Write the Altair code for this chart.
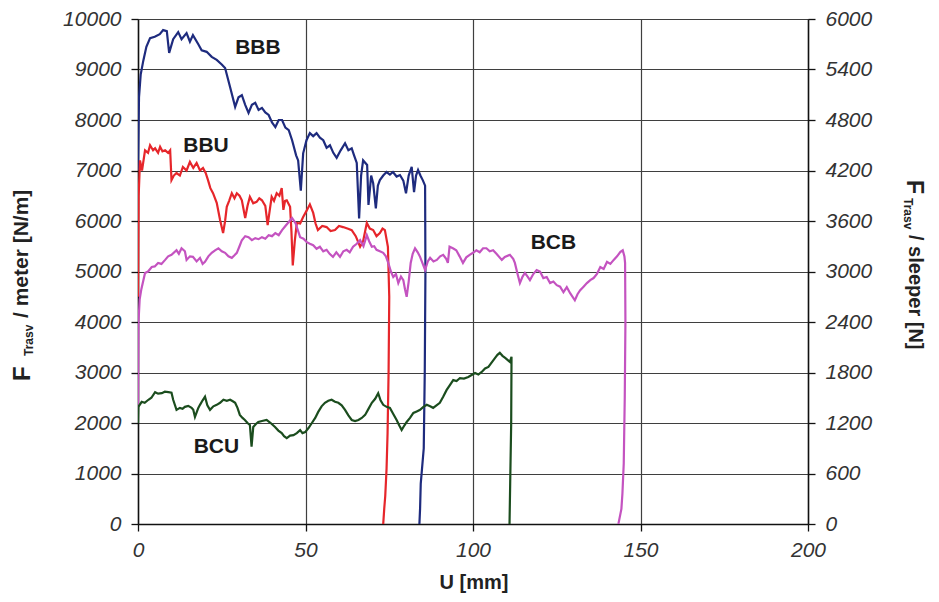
import altair as alt
import pandas as pd

# ---------------- data ----------------
series_names = ["BBB", "BBU", "BCB", "BCU"]
series_colors = ["#1e2b7e", "#e6262b", "#c453c0", "#1b4d1e"]

bbb_u = [0, 0.3, 0.8, 1.6, 2.5, 3.6, 5, 6.5, 7.5, 8.6, 9.3, 10.5, 12, 13, 14.5, 15.5, 16.4, 18, 19, 20.5,
         22, 23.5, 25, 26, 27.5, 29, 30, 31, 32, 33, 34, 35, 36, 37, 38, 39, 40, 41, 42, 43,
         44, 45, 46, 47.2, 47.8, 48.6, 49.3, 50.3, 51.3, 52.3, 53.3, 54.3, 55.3, 56.3, 57.3, 58.3, 59.3, 60.5, 61.8, 62.8,
         63.8, 64.5, 65.3, 66, 66.6, 67.2, 68.4, 68.8, 69.6, 70.2, 71, 71.6, 72.2, 73.2, 74.2, 75.2, 76.1, 77.2, 78.2, 79.2,
         80, 80.8, 81.7, 82.4, 83, 83.6, 84.3, 85, 85.7, 85.8, 85.6, 85.3, 84.4, 84.2, 84.0]
bbb_f = [7000, 8450, 8900, 9180, 9450, 9620, 9650, 9700, 9780, 9760, 9330, 9600, 9740, 9600, 9720, 9550, 9680, 9500, 9380, 9350,
         9250, 9190, 9100, 9030, 8650, 8260, 8450, 8490, 8300, 8140, 8300, 8340, 8200, 8240, 8150, 8100, 7950, 7860, 8000, 8000,
         7850, 7800, 7600, 7300, 7200, 6600, 7340, 7600, 7740, 7680, 7740, 7650, 7600, 7450, 7500, 7350, 7250, 7400, 7540, 7400,
         7440, 7300, 7150, 6050, 6900, 7200, 7110, 6320, 6900, 6750, 6250, 6700, 6810, 6900, 6970, 6920, 6970, 6880, 6910, 6800,
         6550, 6900, 7070, 6570, 6900, 7010, 6900, 6810, 6700, 5000, 3000, 1500, 800, 300, 0]

bbu_u = [0, 0.2, 0.6, 1.2, 2.1, 3, 3.6, 4.5, 5.1, 6, 6.6, 7.3, 8.1, 9, 9.6, 10, 10.7, 11.5, 12.5, 13.4,
         14.5, 15.5, 16.5, 17.5, 18.5, 19.4, 20.2, 20.9, 21.6, 22.4, 23.5, 24.5, 25.4, 26, 26.5, 27.2, 28, 28.8, 29.5, 30.3,
         31, 32, 32.7, 33.4, 34.4, 35.4, 36.2, 37, 38, 38.7, 39.3, 39.9, 40.6, 41.4, 42.2, 42.9, 43.4, 43.9, 44.4, 45.4,
         45.8, 46.2, 46.8, 47.4, 48.4, 49.3, 50.3, 51.3, 52.3, 53, 53.7, 55, 56.3, 57.5, 58.8, 60, 61.2, 62.5, 63.8, 65,
         66.3, 67.2, 68.3, 69.2, 70.2, 71.2, 72.2, 73, 73.7, 74.6, 75, 74.8, 74.5, 74.2, 73.8, 73.5, 73.2]
bbu_f = [4500, 6500, 7200, 7000, 7400, 7350, 7500, 7400, 7440, 7350, 7470, 7380, 7400, 7350, 7400, 6810, 6900, 6950, 6900, 7070,
         7000, 7170, 7050, 7150, 7000, 7050, 6950, 6810, 6650, 6550, 6360, 6020, 5760, 6000, 6280, 6400, 6550, 6450, 6550, 6500,
         6410, 6060, 6300, 6480, 6350, 6380, 6450, 6410, 6300, 5920, 6200, 6480, 6400, 6550, 6500, 6650, 6220, 6400, 6410, 6280,
         5800, 5120, 5600, 5960, 5950, 6080, 6200, 6330, 6160, 5950, 5820, 5900, 5880, 5800, 5820, 5900, 5880, 5850, 5820, 5700,
         5490, 5600, 5960, 5850, 5820, 5700, 5760, 5850, 5820, 5490, 4500, 3000, 1800, 1100, 550, 300, 0]

bcb_u = [0, 0.05, 0.15, 0.5, 1, 2.1, 3, 4.1, 5, 6, 7, 8.1, 9, 10, 11.5, 12.2, 13, 14, 14.5, 15.5,
         16.4, 17.5, 18.5, 19.3, 20, 21, 22, 23, 24, 25, 26, 27, 28, 28.8, 29.5, 30.3, 31, 32, 33, 34,
         35, 36, 37, 38, 39, 40, 41, 42, 43, 44, 45, 46, 47, 48.4, 49.4, 50.4, 51.3, 52.3, 53.3, 54.3,
         55.3, 56.3, 57.2, 58.2, 59.2, 60.3, 61.3, 62.3, 63.2, 64.2, 65.3, 66.3, 67.3, 68.3, 69, 69.8, 70.5, 71.2, 72.2, 73.2,
         74, 74.7, 75.5, 76.2, 77, 77.7, 78.5, 79.2, 79.7, 80.2, 80.8, 81.4, 82, 82.7, 83.5, 84.2, 85, 85.7, 86.5, 87.2,
         88.2, 89.2, 90.2, 91.1, 92, 92.5, 93, 94, 95, 96, 97, 98, 99, 100, 101, 102, 103, 104, 105, 106,
         107, 108.6, 109.5, 111, 112, 112.5, 113.3, 114, 114.8, 115.5, 116.3, 117, 118, 119, 120, 121, 122, 123, 124, 125,
         126, 127, 128, 129, 130.4, 131.2, 132, 133, 134, 135, 136, 137, 138, 139, 140, 141, 142, 143, 144, 144.7,
         145.2, 145.4, 145.5, 145.3, 145, 144.6, 144.3, 143.4]
bcb_f = [2300, 3000, 4000, 4450, 4650, 4970, 5000, 5090, 5100, 5170, 5150, 5230, 5300, 5330, 5420, 5350, 5460, 5400, 5230, 5300,
         5290, 5200, 5270, 5150, 5190, 5300, 5370, 5420, 5460, 5400, 5370, 5300, 5270, 5320, 5370, 5500, 5620, 5700, 5680, 5620,
         5660, 5640, 5680, 5650, 5720, 5700, 5760, 5720, 5820, 5900, 5980, 6060, 5960, 5680, 5650, 5580, 5550, 5520, 5450, 5490,
         5400, 5430, 5350, 5290, 5380, 5290, 5400, 5430, 5380, 5490, 5550, 5620, 5500, 5720, 5600, 5490, 5500, 5430, 5400, 5370,
         5300, 5170, 5000, 4890, 4950, 4770, 4900, 4830, 4650, 4500, 4800, 5170, 5350, 5460, 5380, 5290, 5150, 5030, 5200, 5270,
         5200, 5230, 5300, 5330, 5250, 5170, 5490, 5460, 5420, 5300, 5170, 5280, 5330, 5370, 5420, 5380, 5460, 5460, 5400, 5420,
         5350, 5230, 5290, 5330, 5250, 5170, 4950, 4770, 4900, 4970, 4900, 4830, 4950, 5030, 5000, 4870, 4890, 4770, 4800, 4730,
         4700, 4590, 4690, 4570, 4430, 4550, 4630, 4700, 4770, 4830, 4870, 4950, 5090, 5050, 5190, 5150, 5230, 5300, 5390, 5420,
         5300, 5170, 4000, 2500, 1200, 600, 300, 0]

bcu_u = [0, 0.1, 1.1, 2, 3.1, 4, 5.1, 6, 7.1, 8, 9.1, 10, 10.5, 11.5, 12.5, 13.3, 14, 15, 16, 16.5,
         17, 18, 18.5, 19.3, 20, 20.7, 21.5, 22.5, 23.5, 24.5, 25.5, 26.5, 27.5, 28.3, 29, 29.7, 30.4, 31.2, 31.9, 32.7,
         33.4, 33.9, 34.4, 35.2, 35.9, 37, 38.4, 39.6, 40.9, 41.9, 42.9, 43.6, 44.4, 45.4, 46.4, 47.4, 48.4, 49.1, 49.9, 50.9,
         51.9, 52.9, 53.8, 54.8, 55.8, 56.8, 57.8, 58.8, 59.8, 60.8, 61.8, 62.8, 63.8, 64.8, 65.8, 66.8, 67.8, 68.8, 69.8, 70.8,
         71.7, 72.4, 73.2, 74.2, 75.2, 76.2, 77.2, 78, 78.7, 79.5, 80.2, 81.2, 82.2, 83.2, 84.2, 85.2, 86.2, 87.2, 88.1, 89.1,
         90.1, 91.1, 92.1, 93.1, 94.1, 95.1, 96.1, 97.3, 98.6, 99.6, 100.6, 101.6, 102.6, 103.6, 104.6, 105.6, 106.6, 107.3, 108, 108.8,
         109.6, 110.3, 111, 111.5, 111.4, 111.1, 110.9]
bcu_f = [2000, 2320, 2420, 2400, 2460, 2500, 2610, 2580, 2590, 2620, 2610, 2600, 2460, 2260, 2300, 2280, 2320, 2340, 2300, 2260,
         2120, 2300, 2360, 2450, 2520, 2350, 2260, 2330, 2360, 2400, 2460, 2440, 2460, 2430, 2400, 2300, 2160, 2100, 2060, 2000,
         1960, 1530, 1920, 1980, 2020, 2040, 2060, 2000, 1920, 1850, 1800, 1740, 1700, 1750, 1760, 1800, 1860, 1800, 1820, 1900,
         2000, 2100, 2220, 2330, 2400, 2440, 2460, 2420, 2400, 2350, 2260, 2150, 2060, 2040, 2060, 2100, 2160, 2280, 2400, 2480,
         2590, 2450, 2360, 2320, 2300, 2180, 2060, 1950, 1860, 1950, 2020, 2100, 2200, 2230, 2260, 2320, 2360, 2330, 2300, 2350,
         2400, 2520, 2650, 2750, 2850, 2830, 2890, 2880, 2910, 2950, 2990, 2960, 3010, 3080, 3110, 3200, 3290, 3350, 3390, 3330,
         3290, 3250, 3210, 3310, 2000, 800, 0]

label_text = ["BBB", "BBU", "BCB", "BCU"]
label_u = [35.8, 20.3, 124.0, 23.4]
label_f = [9425, 7485, 5574, 1515]

x_ticks = [0, 50, 100, 150, 200]
left_ticks = [0, 1000, 2000, 3000, 4000, 5000, 6000, 7000, 8000, 9000, 10000]
right_ticks = [0, 600, 1200, 1800, 2400, 3000, 3600, 4200, 4800, 5400, 6000]

# ---------------- build tables ----------------
rows = []
for name, us, fs in [("BBB", bbb_u, bbb_f), ("BBU", bbu_u, bbu_f),
                     ("BCB", bcb_u, bcb_f), ("BCU", bcu_u, bcu_f)]:
    for i, (u, f) in enumerate(zip(us, fs)):
        rows.append({"series": name, "u": u, "f": f, "i": i})
df = pd.DataFrame(rows)
labels_df = pd.DataFrame({"txt": label_text, "u": label_u, "f": label_f})
one = pd.DataFrame({"a": [0]})

W, H = 670, 505
FONT = "Liberation Sans"

LABEL_STYLE = dict(labelFont=FONT, labelFontSize=21, labelFontStyle="italic",
                   labelColor="#333333", format="d", labelFlush=False)

x_scale = alt.Scale(domain=[0, 200], nice=False, zero=False)
y_scale = alt.Scale(domain=[0, 10000], nice=False)

x_enc = alt.X("u:Q", scale=x_scale,
              axis=alt.Axis(values=x_ticks, title=None, grid=True, labelPadding=8, **LABEL_STYLE))
y_enc = alt.Y("f:Q", scale=y_scale,
              axis=alt.Axis(values=left_ticks, title=None, grid=True, orient="left",
                            labelPadding=10, **LABEL_STYLE))

lines = alt.Chart(df).mark_line(strokeWidth=2.2, clip=True).encode(
    x=x_enc,
    y=y_enc,
    color=alt.Color("series:N", scale=alt.Scale(domain=series_names, range=series_colors), legend=None),
    order=alt.Order("i:Q"),
)

labels = alt.Chart(labels_df).mark_text(
    font=FONT, fontSize=21, fontWeight="bold", color="#1a1a1a", align="center", baseline="middle"
).encode(x=x_enc, y=y_enc, text="txt:N")


def title_piece(txt, x, y, size, angle):
    return alt.Chart(one).mark_text(
        text=txt, font=FONT, fontSize=size, fontWeight="bold", color="#222222",
        align="left", baseline="middle", angle=angle
    ).encode(x=alt.value(x), y=alt.value(y))


left_title = (title_piece("F", -115, 362, 24, 270)
              + title_piece("Trasv", -109, 337, 12, 270)
              + title_piece("/ meter [N/m]", -116, 299, 21, 270))
right_title = (title_piece("F", 776, 161, 23, 90)
               + title_piece("Trasv", 770, 179, 12, 90)
               + title_piece("/ sleeper [N]", 777, 216, 20, 90))
bottom_title = alt.Chart(one).mark_text(
    text="U [mm]", font=FONT, fontSize=20, fontWeight="bold", color="#222222",
    align="center", baseline="middle"
).encode(x=alt.value(336), y=alt.value(564))

main = alt.layer(lines, labels, left_title, right_title, bottom_title)

right_axis = alt.Chart(pd.DataFrame({"v": right_ticks})).mark_point(opacity=0).encode(
    y=alt.Y("v:Q", scale=alt.Scale(domain=[0, 6000], nice=False),
            axis=alt.Axis(values=right_ticks, title=None, grid=False, orient="right",
                          labelPadding=10, **LABEL_STYLE))
)

chart = alt.layer(main, right_axis).resolve_scale(y="independent").properties(
    width=W, height=H,
    autosize=alt.AutoSizeParams(type="none"),
    padding={"left": 130, "top": 11, "right": 122, "bottom": 70},
).configure_view(stroke=None).configure_axis(
    domainColor="#111111", domainWidth=1.5,
    tickColor="#111111", tickSize=7, tickWidth=1.3,
    gridColor="#3f3f3f", gridWidth=1.2,
)

chart.save("out.html", embed_options={"renderer": "svg", "actions": False})
